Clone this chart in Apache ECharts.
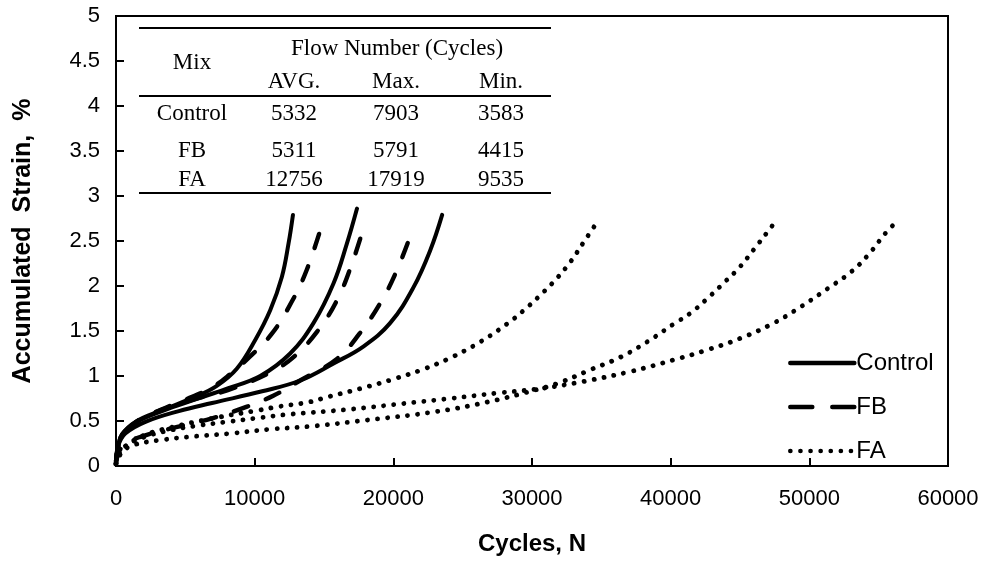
<!DOCTYPE html>
<html>
<head>
<meta charset="utf-8">
<script src="https://cdn.jsdelivr.net/npm/echarts@6/dist/echarts.min.js"></script>
<style>html,body{margin:0;padding:0;background:#fff}#c{width:987px;height:570px}</style>
</head>
<body>
<div id="c"></div>
<script>
// ---- Data (cycles, accumulated strain %) ----
const controlA = [[0,0.05],[150,0.22],[430,0.35],[1400,0.49],[3320,0.62],[5730,0.77],[7270,0.89],[8710,1.08],[10040,1.40],[11120,1.73],[11960,2.10],[12440,2.47],[12760,2.79]];
const controlB = [[0,0.05],[150,0.22],[430,0.35],[1400,0.48],[3320,0.61],[5730,0.74],[8000,0.86],[10400,1.00],[12560,1.25],[14250,1.59],[15690,2.03],[16650,2.47],[17380,2.86]];
const controlC = [[0,0.05],[150,0.22],[670,0.36],[2120,0.49],[4530,0.61],[6930,0.70],[10540,0.83],[13280,0.95],[15690,1.14],[17860,1.33],[19780,1.59],[21470,1.99],[22670,2.40],[23520,2.79]];
const fbA = [[0,0.05],[150,0.2],[500,0.32],[1280,0.47],[3320,0.63],[5490,0.77],[7000,0.88],[8230,1.02],[9560,1.20],[11240,1.47],[12690,1.83],[13760,2.18],[14850,2.68]];
const fbB = [[0,0.05],[150,0.2],[500,0.32],[1370,0.48],[3400,0.63],[5850,0.75],[8010,0.84],[11120,1.04],[12800,1.21],[14490,1.49],[15930,1.84],[17020,2.25],[17980,2.71]];
const fbC = [[0,0.03],[200,0.15],[670,0.25],[1880,0.33],[4040,0.42],[6930,0.53],[9450,0.66],[11340,0.78],[13280,0.95],[15930,1.19],[17560,1.47],[19060,1.81],[20270,2.18],[21470,2.66]];
const faA = [[0,0.03],[200,0.13],[500,0.2],[2000,0.34],[4000,0.43],[7000,0.53],[10300,0.62],[11740,0.66],[13910,0.71],[15330,0.77],[17620,0.86],[19900,0.96],[22070,1.07],[24240,1.21],[26280,1.38],[28210,1.58],[29410,1.73],[30610,1.90],[31700,2.07],[32780,2.27],[33740,2.49],[34700,2.71]];
const faB = [[0,0.02],[200,0.1],[500,0.16],[1160,0.23],[3320,0.29],[5730,0.33],[8140,0.36],[11260,0.41],[14010,0.44],[18100,0.51],[22910,0.60],[26760,0.71],[30610,0.86],[32060,0.93],[34220,1.07],[36390,1.21],[38310,1.38],[40240,1.58],[41440,1.70],[42640,1.86],[43800,2.03],[44980,2.21],[46020,2.41],[46980,2.60],[47530,2.71]];
const faC = [[0,0.03],[200,0.12],[500,0.2],[2000,0.32],[4000,0.40],[6000,0.45],[8000,0.49],[10060,0.53],[12220,0.57],[16890,0.63],[20500,0.69],[24110,0.75],[27490,0.81],[30610,0.86],[33740,0.94],[37110,1.05],[40240,1.18],[42640,1.29],[45050,1.42],[47460,1.59],[49390,1.77],[51310,1.97],[53040,2.16],[54330,2.36],[55400,2.57],[56000,2.67]];

const legendNames = ['Control', 'FB', 'FA'];

// ---- Inset table ----
const tableTitle = 'Flow Number (Cycles)';
const tableMixLabel = 'Mix';
const tableCols = ['AVG.', 'Max.', 'Min.'];
const tableMixes = ['Control', 'FB', 'FA'];
const tableAvg = [5332, 5311, 12756];
const tableMax = [7903, 5791, 17919];
const tableMin = [3583, 4415, 9535];

const SANS = '"Liberation Sans", Arial, sans-serif';
const SERIF = '"Liberation Serif", "Times New Roman", serif';

const solidStyle = {color: '#000', width: 4, type: 'solid', cap: 'round', join: 'round'};
const dashStyle = {color: '#000', width: 4.4, type: [15, 19], cap: 'round', join: 'round'};
const dotStyle = {color: '#000', width: 4.8, type: [0.1, 10], cap: 'round', join: 'round'};

function mk(name, data, ls) {
  return {name: name, type: 'line', data: data, smooth: 0.4, symbol: 'none', showSymbol: false,
    lineStyle: ls, itemStyle: {color: '#000'}, animation: false, z: 3};
}

const series = [
  mk('FA', faA, dotStyle), mk('FA', faB, dotStyle), mk('FA', faC, dotStyle),
  mk('FB', fbA, dashStyle), mk('FB', fbB, dashStyle), mk('FB', fbC, dashStyle),
  mk('Control', controlA, solidStyle), mk('Control', controlB, solidStyle), mk('Control', controlC, solidStyle)
];

// table graphic
const colX = [192, 294, 396, 501];
const rowY = [114, 151, 180];
const tFont = {fontFamily: SERIF, fontSize: 23, fill: '#000', align: 'center', verticalAlign: 'middle'};
const g = [];
function txt(t, x, y) { g.push({type: 'text', z: 10, style: Object.assign({text: String(t), x: x, y: y}, tFont)}); }
function hl(y) { g.push({type: 'line', z: 10, shape: {x1: 139, y1: y, x2: 551, y2: y}, style: {stroke: '#000', lineWidth: 2}}); }
hl(28); hl(96); hl(193);
txt(tableMixLabel, colX[0], 63);
txt(tableTitle, 397, 49);
tableCols.forEach((c, i) => txt(c, colX[i + 1], 82));
tableMixes.forEach((m, r) => {
  txt(m, colX[0], rowY[r]);
  txt(tableAvg[r], colX[1], rowY[r]);
  txt(tableMax[r], colX[2], rowY[r]);
  txt(tableMin[r], colX[3], rowY[r]);
});

const chart = echarts.init(document.getElementById('c'), null, {renderer: 'canvas'});
chart.setOption({
  backgroundColor: '#fff',
  animation: false,
  grid: {left: 116, right: 39, top: 16, bottom: 104, show: true, borderColor: '#000', borderWidth: 2, backgroundColor: 'transparent'},
  legend: {
    orient: 'vertical', left: 788, top: 351, padding: 0, itemWidth: 64, itemHeight: 20, itemGap: 20,
    itemStyle: {opacity: 0, color: 'transparent', borderWidth: 0},
    textStyle: {fontFamily: SANS, fontSize: 24, color: '#000', padding: [0, 0, 0, -3]},
    data: [
      {name: 'Control', lineStyle: {width: 4.5, type: 'solid'}},
      {name: 'FB', lineStyle: {width: 4.5, type: [22, 20]}},
      {name: 'FA', lineStyle: {width: 4.6, type: [0.1, 10]}}
    ]
  },
  xAxis: {
    type: 'value', min: 0, max: 60000, interval: 10000,
    name: 'Cycles, N', nameLocation: 'middle', nameGap: 66,
    nameTextStyle: {fontFamily: SANS, fontSize: 24, fontWeight: 'bold', color: '#000'},
    axisLine: {show: true, lineStyle: {color: '#000', width: 2}},
    axisTick: {show: true, inside: true, length: 8, lineStyle: {color: '#000', width: 2}},
    axisLabel: {fontFamily: SANS, fontSize: 22, color: '#000', margin: 22, formatter: v => String(v)},
    splitLine: {show: false}
  },
  yAxis: {
    type: 'value', min: 0, max: 5, interval: 0.5,
    name: 'Accumulated  Strain,  %', nameLocation: 'middle', nameGap: 80, nameRotate: 90,
    nameTextStyle: {fontFamily: SANS, fontSize: 25, fontWeight: 'bold', color: '#000'},
    axisLine: {show: true, lineStyle: {color: '#000', width: 2}},
    axisTick: {show: true, inside: true, length: 8, lineStyle: {color: '#000', width: 2}},
    axisLabel: {fontFamily: SANS, fontSize: 22, color: '#000', margin: 16},
    splitLine: {show: false}
  },
  graphic: g,
  series: series
});
</script>
</body>
</html>
